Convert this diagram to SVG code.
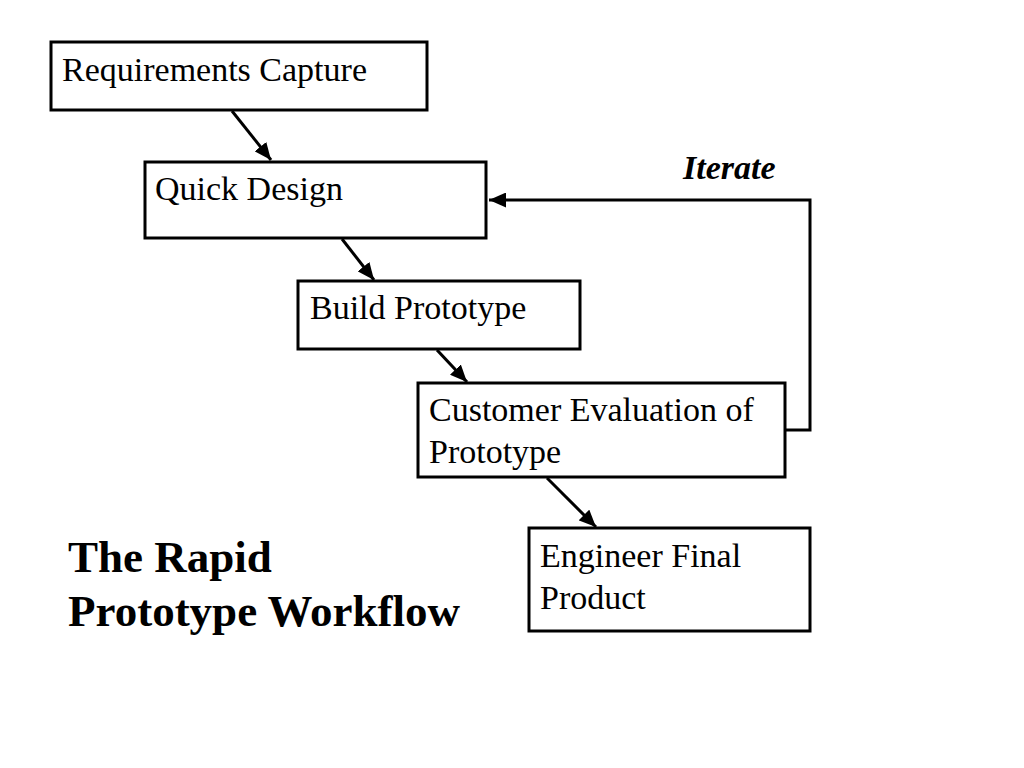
<svg xmlns="http://www.w3.org/2000/svg" width="1024" height="768" viewBox="0 0 1024 768">
<style>
.box{fill:#fff;stroke:#000;stroke-width:3}
.lbl{font-family:"Liberation Serif","Times New Roman",serif;font-size:34px;fill:#000}
.conn{fill:none;stroke:#000;stroke-width:3}
.title{font-family:"Liberation Serif","Times New Roman",serif;font-size:45px;font-weight:bold;fill:#000}
</style>
<defs>
<marker id="ah2" markerWidth="17" markerHeight="15" refX="17" refY="7.5" orient="auto" markerUnits="userSpaceOnUse" viewBox="0 0 17 15">
<path d="M0,0 L17,7.5 L0,15 Z" fill="#000"/>
</marker>
</defs>
<rect width="1024" height="768" fill="#fff"/>
<g id="connectors">
<line class="conn" x1="232" y1="111" x2="271" y2="160" marker-end="url(#ah2)"/>
<line class="conn" x1="342" y1="239" x2="374" y2="280" marker-end="url(#ah2)"/>
<line class="conn" x1="437" y1="350" x2="467" y2="382" marker-end="url(#ah2)"/>
<line class="conn" x1="547" y1="478" x2="596" y2="527" marker-end="url(#ah2)"/>
<polyline class="conn" points="786,430 810,430 810,200 489,200" marker-end="url(#ah2)"/>
<text x="683" y="179" font-family="Liberation Serif, Times New Roman, serif" font-size="34" font-weight="bold" font-style="italic">Iterate</text>
</g>
<g id="n1"><rect class="box" x="51" y="42" width="376" height="68"/><text class="lbl" x="62" y="81">Requirements Capture</text></g>
<g id="n2"><rect class="box" x="145" y="162" width="341" height="76"/><text class="lbl" x="155" y="200">Quick Design</text></g>
<g id="n3"><rect class="box" x="298" y="281" width="282" height="68"/><text class="lbl" x="310" y="319">Build Prototype</text></g>
<g id="n4"><rect class="box" x="418" y="383" width="367" height="94"/><text class="lbl" x="429" y="421">Customer Evaluation of</text><text class="lbl" x="429" y="463">Prototype</text></g>
<g id="n5"><rect class="box" x="529" y="528" width="281" height="103"/><text class="lbl" x="540" y="567">Engineer Final</text><text class="lbl" x="540" y="609">Product</text></g>
<g id="title"><text class="title" x="68" y="572">The Rapid</text><text class="title" x="68" y="626">Prototype Workflow</text></g>
</svg>
